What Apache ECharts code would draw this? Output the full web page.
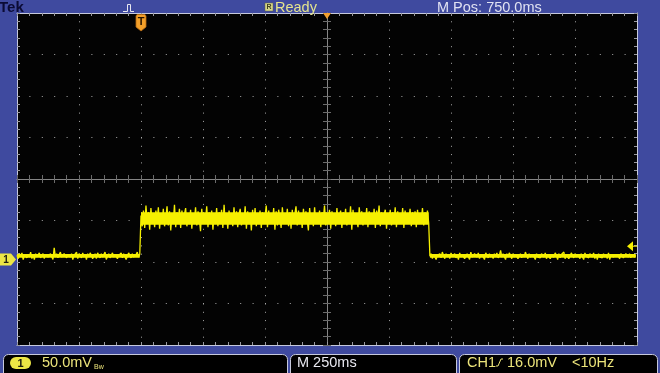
<!DOCTYPE html>
<html><head><meta charset="utf-8">
<script src="https://cdn.jsdelivr.net/npm/echarts@6/dist/echarts.min.js"></script>
<style>html,body{margin:0;padding:0;background:#3f4a9f;overflow:hidden}#c{width:660px;height:373px}</style>
</head><body><div id="c"></div>
<script>
// ---- data ----
const sampleStartMs = -500;
const sampleStepMs = 5;
const preTriggerMv = [
5,1,7,4,8,0,5,7,2,6,3,9,1,6,0,7,3,5,8,2,
4,7,1,6,8,3,1,7,5,0,14,3,7,2,6,9,3,1,7,5,
2,6,8,3,7,0,5,3,9,1,7,5,2,8,3,6,0,7,3,8,
5,1,4,7,1,8,5,2,7,3,6,9,0,4,7,2,5,8,3,6,
7,1,5,3,8,2,7,5,0,4,8,5,2,7,3,1,6,9,3,6];
const pulseMv = [
53,40,59,38,65,45,57,36,62,44,55,39,59,47,63,37,56,43,61,40,
50,64,41,58,35,55,45,66,39,57,46,61,38,59,43,54,62,40,53,44,
60,37,56,45,63,41,58,50,34,61,43,55,46,64,39,57,44,59,36,54,
45,62,40,57,47,60,38,66,43,54,37,59,46,56,40,63,44,58,39,55,
61,41,53,45,64,37,58,47,56,35,60,43,62,40,55,46,59,38,57,44,
52,65,39,59,43,56,45,62,36,58,41,60,50,38,63,44,55,46,61,40,
57,37,60,44,54,64,41,59,46,55,38,61,43,58,47,35,62,45,56,40,
63,43,55,46,59,39,57,48,65,41,54,44,60,37,58,47,56,40,62,45,
44,59,38,57,47,61,41,55,45,64,36,60,43,56,48,39,63,46,58,41,
55,45,62,39,58,46,56,43,61,38,59,48,65,40,57,44,54,60,37,56,
46,60,41,57,45,63,39,58,47,55,43,62,38,59,44,54,48,61,40,57,
45,58,39,60,43,55,47,62,41,57,46,59,44];
const postPulseMv = [
4,7,1,6,8,0,5,3,7,2,9,5,1,7,3,6,1,8,4,6,
7,2,5,0,8,3,6,7,1,4,7,5,0,9,3,2,7,6,3,8,
1,6,7,3,0,8,5,2,7,3,6,1,7,4,8,2,5,11,3,7,
5,0,7,3,8,5,1,7,3,6,8,1,4,7,2,6,3,9,5,1,
7,3,2,6,8,0,7,3,5,2,7,6,3,8,1,5,7,1,4,6,
3,8,5,0,7,2,6,4,9,1,5,7,1,4,8,5,2,7,3,6,
5,1,7,3,0,8,4,6,2,7,5,3,8,1,6,0,7,3,5,2,
7,3,6,1,8,0,5,7,3,2,6,8,4,1,7,5,2,4,7,5,
3,7,2,6,8,3,5];
// dense core of the noisy trace (persistence band), per segment
const segmentStartMs = [-500, 0, 1165];
const segmentEndMs = [-5, 1160, 1995];
const coreLowMv = [2, 42, 2];
const coreHighMv = [6.5, 57, 6.5];

const timeRangeMs = [-500, 2000];
const msPerDiv = 250;
const voltRangeMv = [-103, 297];
const mvPerDiv = 50;
const triggerTimeMs = 0;
const horizPositionMs = 750;
const triggerLevelMv = 16;
const statusTexts = ['Tek', 'Ready', 'M Pos: 750.0ms', '50.0mV', 'M 250ms', 'CH1', '16.0mV', '<10Hz'];

// ---- build series ----
const allMv = preTriggerMv.concat(pulseMv, postPulseMv);
const traceData = allMv.map((v, i) => [sampleStartMs + i * sampleStepMs, v]);
const coreData = segmentStartMs.map((s, k) => [s, segmentEndMs[k], coreLowMv[k], coreHighMv[k]]);

const FONT = '"Liberation Sans", Arial, sans-serif';
const YEL = '#ece47a';
const TRACE = '#f6f000';
const BORDER = '#c6c9dc';
const TICK = '#9a9aa0';
const CENTER = '#858585';

function xAx(extra) {
  return Object.assign({
    type: 'value', min: timeRangeMs[0], max: timeRangeMs[1], interval: msPerDiv,
    axisLabel: {show: false}, splitLine: {show: false},
    axisLine: {show: true, onZero: false, lineStyle: {color: BORDER, width: 1}},
    axisTick: {show: true, inside: true, length: 3, lineStyle: {color: TICK}},
    minorTick: {show: true, splitNumber: 5, length: 3, lineStyle: {color: TICK}}
  }, extra);
}
function yAx(extra) {
  return Object.assign({
    type: 'value', min: voltRangeMv[0], max: voltRangeMv[1], interval: mvPerDiv,
    axisLabel: {show: false}, splitLine: {show: false},
    axisLine: {show: true, onZero: false, lineStyle: {color: BORDER, width: 1}},
    axisTick: {show: true, inside: true, length: 3, lineStyle: {color: TICK}},
    minorTick: {show: true, splitNumber: 5, length: 3, lineStyle: {color: TICK}}
  }, extra);
}
const centerLine = {show: true, onZero: false, lineStyle: {color: CENTER, width: 1}};
const centerTick = {show: true, length: 4, lineStyle: {color: '#6c6c6c'}};
const centerMinor = {show: true, splitNumber: 5, length: 4, lineStyle: {color: '#6c6c6c'}};

const chart = echarts.init(document.getElementById('c'), null, {renderer: 'canvas'});

function staticGraphics() {
  const t = (id, text, x, y, fill, size, extra) => Object.assign({
    type: 'text', id, x, y, z: 10,
    style: Object.assign({text, fill, font: size + 'px ' + FONT, align: 'left', verticalAlign: 'middle'}, extra || {})
  });
  return [
    t('tek', statusTexts[0], -1, 7.5, '#0b0b35', 15, {font: 'bold 15px ' + FONT}),
    {type: 'polyline', id: 'pulseIcon', shape: {points: [[123, 11.5], [127.5, 11.5], [127.5, 4.5], [130.5, 4.5], [130.5, 11.5], [134, 11.5]]}, style: {stroke: '#e8e8f0', lineWidth: 1, fill: null}},
    {type: 'rect', id: 'readyIcon', shape: {x: 265, y: 3, width: 8, height: 8}, style: {fill: '#d8d88a', stroke: '#606040', lineWidth: 0.5}},
    t('readyIconT', 'R', 266.5, 7.5, '#404020', 7, {font: 'bold 7px ' + FONT}),
    t('ready', statusTexts[1], 275, 7.5, '#e4e48e', 14.5),
    t('mpos', statusTexts[2], 437, 7.5, '#e0e2f2', 14.5),
    {type: 'rect', id: 'box1', shape: {x: 3.5, y: 354.5, width: 284, height: 24, r: 5}, style: {fill: '#000', stroke: BORDER, lineWidth: 1}},
    {type: 'rect', id: 'box2', shape: {x: 290.5, y: 354.5, width: 166, height: 24, r: 5}, style: {fill: '#000', stroke: BORDER, lineWidth: 1}},
    {type: 'rect', id: 'box3', shape: {x: 459.5, y: 354.5, width: 198, height: 24, r: 5}, style: {fill: '#000', stroke: BORDER, lineWidth: 1}},
    {type: 'rect', id: 'badge', shape: {x: 10, y: 357, width: 21, height: 12, r: 6}, style: {fill: '#ede645'}},
    t('badgeT', '1', 17.5, 363.5, '#202010', 11, {font: 'bold 11px ' + FONT}),
    t('volts', statusTexts[3], 42, 363, YEL, 14.5),
    t('bw', 'Bw', 94, 367, YEL, 7),
    t('time', statusTexts[4], 297, 363, '#e8e8f0', 14.5),
    t('ch1', statusTexts[5], 467, 363, YEL, 14.5),
    {type: 'polyline', id: 'slope', shape: {points: [[496, 366], [498, 366], [501, 359], [503, 359]]}, style: {stroke: YEL, lineWidth: 1, fill: null}},
    t('trig', statusTexts[6], 507, 363, YEL, 14.5),
    t('hz', statusTexts[7], 572, 363, YEL, 14.5)
  ];
}

const option = {
  backgroundColor: '#3f4a9f',
  animation: false,
  grid: {left: 17, top: 13, width: 620, height: 332, show: true, backgroundColor: '#030303', borderWidth: 0, containLabel: false, outerBoundsMode: 'none'},
  xAxis: [
    xAx({position: 'bottom', splitLine: {show: true, lineStyle: {color: '#a8a8a8', width: 1, type: [1, 7.3]}}}),
    xAx({position: 'top'}),
    xAx({position: 'bottom', offset: -166, axisLine: centerLine, axisTick: Object.assign({inside: true}, centerTick), minorTick: centerMinor}),
    xAx({position: 'bottom', offset: -166, axisLine: centerLine, axisTick: Object.assign({inside: false}, centerTick), minorTick: centerMinor})
  ],
  yAxis: [
    yAx({position: 'left', splitLine: {show: true, lineStyle: {color: '#a8a8a8', width: 1, type: [1, 11.4]}}}),
    yAx({position: 'right'}),
    yAx({position: 'left', offset: -310, axisLine: centerLine, axisTick: Object.assign({inside: true}, centerTick), minorTick: centerMinor}),
    yAx({position: 'left', offset: -310, axisLine: centerLine, axisTick: Object.assign({inside: false}, centerTick), minorTick: centerMinor})
  ],
  series: [
    {type: 'custom', name: 'core', xAxisIndex: 0, yAxisIndex: 0, data: coreData, z: 4, silent: true,
     encode: {x: [0, 1], y: [2, 3]},
     renderItem: function (params, api) {
       const p0 = api.coord([api.value(0), api.value(3)]);
       const p1 = api.coord([api.value(1), api.value(2)]);
       return {type: 'rect', shape: {x: p0[0], y: p0[1], width: p1[0] - p0[0], height: p1[1] - p0[1]}, style: {fill: TRACE}};
     }},
    {type: 'line', name: 'CH1', xAxisIndex: 0, yAxisIndex: 0, data: traceData,
     showSymbol: false, symbol: 'none', sampling: null, z: 5,
     lineStyle: {color: TRACE, width: 1.3}, clip: true}
  ],
  graphic: staticGraphics()
};
chart.setOption(option);

// markers placed via the chart's own scales
const toPx = (t, v) => chart.convertToPixel({xAxisIndex: 0, yAxisIndex: 0}, [t, v]);
const trigX = toPx(triggerTimeMs, 0)[0];
const posX = toPx(horizPositionMs, 0)[0];
const gndY = toPx(0, 0)[1];
const lvlY = toPx(0, triggerLevelMv)[1];
const markers = [
  {type: 'polygon', id: 'tMark', z: 12,
   shape: {points: [[trigX - 5, 16], [trigX - 4, 14.5], [trigX + 4, 14.5], [trigX + 5, 16], [trigX + 5, 27], [trigX, 31], [trigX - 5, 27]]},
   style: {fill: '#f3a02a', stroke: '#b86a10', lineWidth: 0.8}},
  {type: 'text', id: 'tMarkT', z: 13, x: trigX, y: 21.5, style: {text: 'T', fill: '#2a1500', font: 'bold 11px ' + FONT, align: 'center', verticalAlign: 'middle'}},
  {type: 'polygon', id: 'posMark', z: 12, shape: {points: [[posX - 4, 13], [posX + 4, 13], [posX, 19]]}, style: {fill: '#f0a030'}},
  {type: 'polygon', id: 'gndMark', z: 12, shape: {points: [[0, gndY - 6], [11, gndY - 6], [16, gndY], [11, gndY + 6], [0, gndY + 6]]}, style: {fill: '#ede645'}},
  {type: 'text', id: 'gndMarkT', z: 13, x: 6, y: gndY + 0.5, style: {text: '1', fill: '#202010', font: 'bold 10px ' + FONT, align: 'center', verticalAlign: 'middle'}},
  {type: 'polygon', id: 'lvlMark', z: 12, shape: {points: [[627, lvlY], [633, lvlY - 5], [633, lvlY + 5]]}, style: {fill: TRACE}},
  {type: 'line', id: 'lvlLine', z: 12, shape: {x1: 633, y1: lvlY, x2: 637, y2: lvlY}, style: {stroke: TRACE, lineWidth: 1}}
];
chart.setOption({graphic: staticGraphics().concat(markers)});
</script>
</body></html>
